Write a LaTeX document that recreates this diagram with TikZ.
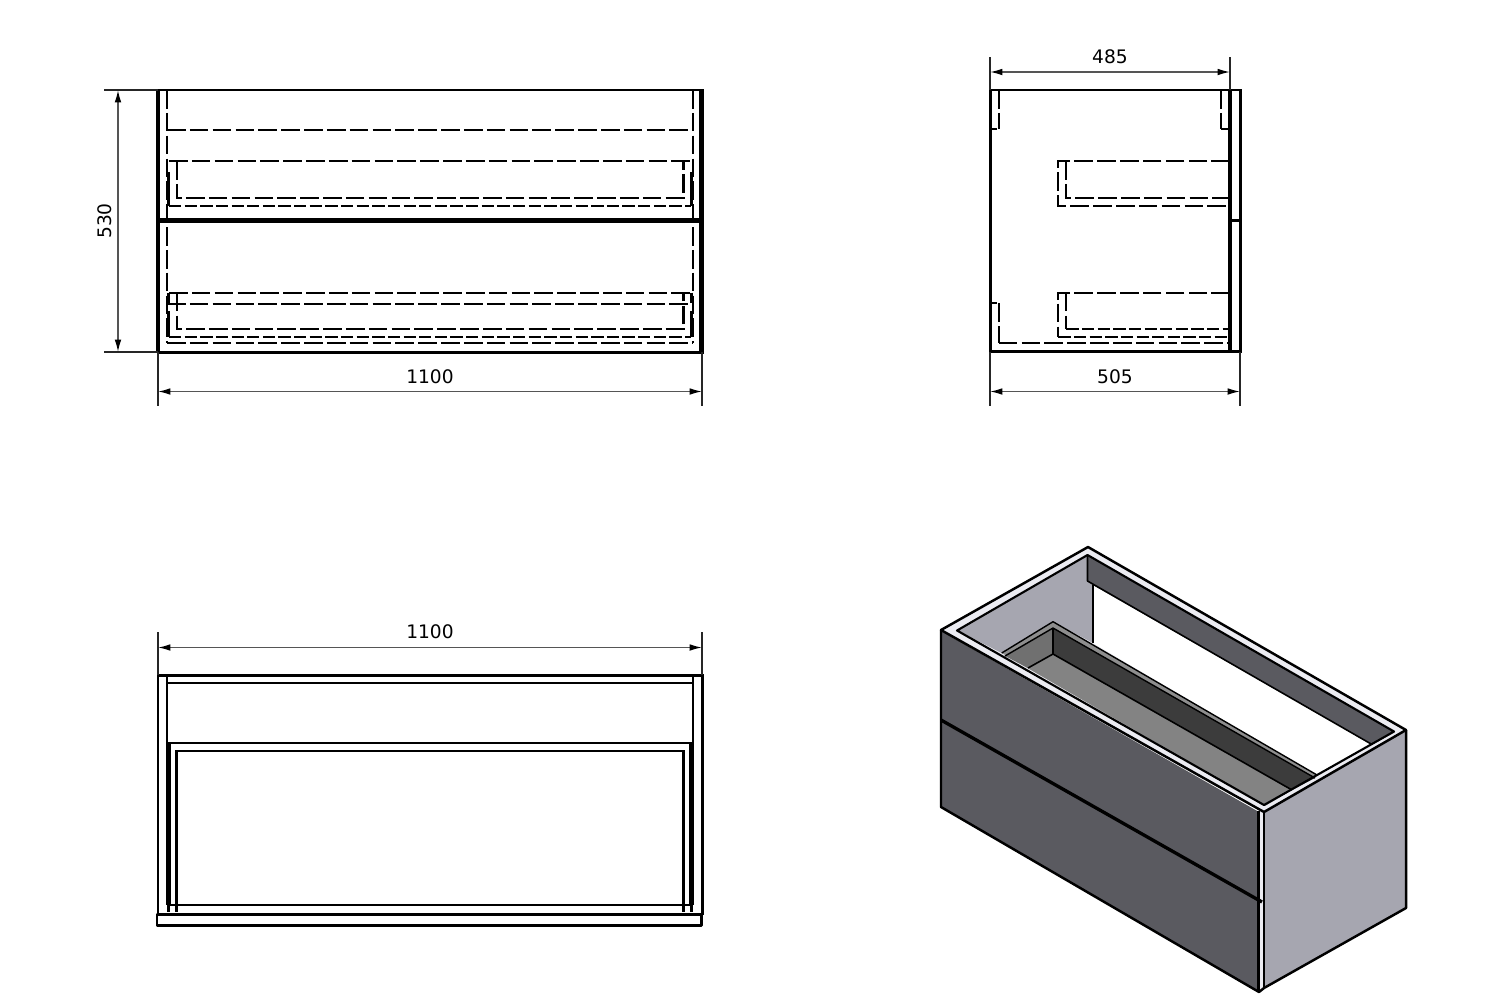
\documentclass[tikz,border=0pt]{standalone}
\usepackage{fontspec}
\setmainfont{DejaVu Sans}
\usetikzlibrary{arrows.meta}
\definecolor{facedark}{HTML}{5A5A60}
\definecolor{facelight}{HTML}{A6A6B0}
\definecolor{rimwhite}{HTML}{ECECF2}
\definecolor{traylip}{HTML}{8E8E8E}
\definecolor{traymid}{HTML}{707070}
\definecolor{traydark}{HTML}{3C3C3C}
\definecolor{trayfloor}{HTML}{838383}
\definecolor{dimgray}{HTML}{555555}
\tikzset{
  outline/.style={line width=1.7pt,black},
  thickline/.style={line width=2.1pt,black},
  thinline/.style={line width=1.25pt,black},
  hidlong/.style={line width=1.25pt,black,dash pattern=on 10.6pt off 2.4pt},
  hidshort/.style={line width=1.25pt,black,dash pattern=on 7pt off 1.9pt},
  hidmini/.style={line width=1.25pt,black,dash pattern=on 4pt off 1.2pt},
  dimline/.style={line width=.85pt,dimgray,{Latex[length=7pt,width=3.8pt,black]}-{Latex[length=7pt,width=3.8pt,black]}},
  extline/.style={line width=.6pt,black!85},
  dimtext/.style={font=\fontsize{10.6pt}{12pt}\selectfont,inner sep=0pt,black},
  isoedge/.style={line width=1.4pt,black,line join=round}
}
\begin{document}
\begin{tikzpicture}[x=0.02cm,y=-0.02cm]
\useasboundingbox (0,0) rectangle (1500,994);
\fill[white] (0,0) rectangle (1500,994);

%% ---------- Front view ----------
\draw[hidlong] (167,90) -- (167,343);
\draw[hidlong] (693,90) -- (693,343);
\draw[hidlong] (167,130) -- (693,130);
% upper tray
\draw[hidlong] (169,161) -- (691,161);
\draw[hidshort] (169,205.7) -- (691,205.7);
\draw[thinline] (168.5,172) -- (168.5,205.7);
\draw[thinline] (691.5,172) -- (691.5,205.7);
\draw[hidlong] (177,161) -- (177,197.7) -- (683.5,197.7) -- (683.5,161);
% lower tray
\draw[hidlong] (169,292.7) -- (691,292.7);
\draw[hidlong] (167,304) -- (177,304) -- (683.5,304) -- (693,304);
\draw[thinline] (168.5,292.7) -- (168.5,303);
\draw[thinline] (691.5,292.7) -- (691.5,303);
\draw[thinline] (168.5,311) -- (168.5,337.3);
\draw[thinline] (691.5,311) -- (691.5,337.3);
\draw[hidlong] (177,292.7) -- (177,329.3) -- (683.5,329.3) -- (683.5,292.7);
\draw[hidshort] (169,337.3) -- (691,337.3);
\draw[hidlong] (167,343.3) -- (693,343.3);
% outer
\draw[outline] (158,90) rectangle (702,352);
\draw[thickline] (158,90) -- (158,352);
\draw[line width=2.3pt] (701.5,90) -- (701.5,352);
\draw[line width=2.4pt] (158,220.5) -- (702,220.5);
\coordinate (fa) at (118,90); \coordinate (fb) at (118,352);
\coordinate (fc) at (158,391.5); \coordinate (fd) at (702,391.5);
\draw[extline] (104,90) -- (158,90);
\draw[extline] (104,352) -- (158,352);
\draw[extline] (158,352) -- (158,405.5);
\draw[extline] (702,352) -- (702,405.5);
\draw[dimline] (fa) -- (fb);
\draw[dimline] (fc) -- (fd);
\node[dimtext,rotate=90] (t530) at (105,221) {530};
\node[dimtext] (t1100a) at (430,377) {1100};

%% ---------- Side view ----------
\draw[hidmini] (990,129.3) -- (998.7,129.3);
\draw[hidlong] (998.7,90) -- (998.7,129.3);
\draw[hidlong] (1220.7,90) -- (1220.7,129.3);
\draw[hidmini] (1220.7,129.3) -- (1230,129.3);
\draw[hidlong] (1230,161) -- (1058.3,161) -- (1058.3,205.7) -- (1230,205.7);
\draw[hidlong] (1066.3,161) -- (1066.3,197.7) -- (1230,197.7);
\draw[hidlong] (1230,292.7) -- (1058.3,292.7) -- (1058.3,337.3);
\draw[hidshort] (1058.3,337.3) -- (1230,337.3);
\draw[hidlong] (1066.3,292.7) -- (1066.3,329.3);
\draw[hidshort] (1066.3,329.3) -- (1230,329.3);
\draw[hidmini] (990,303.3) -- (998.7,303.3);
\draw[hidlong] (998.7,303.3) -- (998.7,343.3);
\draw[hidlong] (998.7,343.3) -- (1230,343.3);
\draw[outline] (990,90) rectangle (1240,351.7);
\draw[thickline] (1230,90) -- (1230,351.7);
\draw[thickline] (1230,220.5) -- (1240,220.5);
\coordinate (sa) at (990,72); \coordinate (sb) at (1230,72);
\coordinate (sc) at (990,391.5); \coordinate (sd) at (1240,391.5);
\draw[extline] (990,57) -- (990,90);
\draw[extline] (1230,57) -- (1230,90);
\draw[extline] (990,352) -- (990,405.5);
\draw[extline] (1240,352) -- (1240,405.5);
\draw[dimline] (sa) -- (sb);
\draw[dimline] (sc) -- (sd);
\node[dimtext] (t485) at (1110,57) {485};
\node[dimtext] (t505) at (1115,377) {505};

%% ---------- Top view ----------
\draw[outline] (158,914.5) -- (158,675) -- (702,675) -- (702,914.5);
\draw[thinline] (166.7,743.3) -- (166.7,683.3) -- (693,683.3) -- (693,743.3);
\draw[thinline] (166.7,675) -- (166.7,683.3);
\draw[thinline] (693,675) -- (693,683.3);
\draw[thinline] (166.7,743.3) -- (693,743.3);
\draw[line width=2.3pt] (168.5,743.3) -- (168.5,905);
\draw[line width=2.3pt] (691.5,743.3) -- (691.5,905);
\draw[thinline] (176.5,905) -- (176.5,751) -- (683.5,751) -- (683.5,905);
\draw[thinline] (168,905) -- (692,905);
\draw[hidmini] (168.5,905) -- (168.5,914);
\draw[hidmini] (176.5,905) -- (176.5,914);
\draw[hidmini] (683.5,905) -- (683.5,914);
\draw[hidmini] (691.5,905) -- (691.5,914);
\draw[outline,line join=round] (157,914.5) rectangle (701.3,925);
\coordinate (ta) at (158,647.5); \coordinate (tb) at (702,647.5);
\draw[extline] (158,632) -- (158,675);
\draw[extline] (702,632) -- (702,675);
\draw[dimline] (ta) -- (tb);
\node[dimtext] (t1100b) at (430,632) {1100};

%% ---------- Isometric view ----------
% front and right faces
\fill[facedark] (941,631) -- (1259,812) -- (1259,992) -- (941,807) -- cycle;
\fill[facelight] (1264,812) -- (1406,731) -- (1406,908) -- (1264,988) -- cycle;
\fill[rimwhite] (1259,810) -- (1264,810) -- (1264,988) -- (1259,991) -- cycle;
% rim
\fill[rimwhite] (941,630) -- (1088,547) -- (1406,730) -- (1263,812) -- cycle;
% inner left wall
\fill[facelight] (957,630.5) -- (1087,556) -- (1093,560) -- (1093,643) -- (1053,621.7) -- (1001.7,653) -- cycle;
% white opening
\fill[white] (1093,585) -- (1372,744) -- (1316,775) -- (1093,643) -- cycle;
% back strip
\fill[facedark] (1087.5,555) -- (1395,732) -- (1372,744.5) -- (1093,585) -- (1087.5,581) -- cycle;
% tray
\fill[traylip] (1001.7,653) -- (1053,621.7) -- (1317,775) -- (1265,806) -- cycle;
\fill[traymid] (1005,656) -- (1053,628) -- (1053,654) -- (1028,668) -- cycle;
\fill[traydark] (1053,628) -- (1315,778) -- (1292,790) -- (1053,654) -- cycle;
\fill[trayfloor] (1028,668) -- (1053,654) -- (1292,790) -- (1265,805) -- cycle;
\draw[isoedge,line width=.8pt] (1001.7,653) -- (1053,621.7) -- (1317,775);
\draw[isoedge,line width=.8pt] (1005,656) -- (1053,628) -- (1315,778);
\draw[isoedge,line width=.9pt] (1053,628) -- (1053,654);
\draw[isoedge,line width=.9pt] (1028,668) -- (1053,654) -- (1292,790);
% wall edges
\draw[isoedge,line width=.9pt] (1093,585) -- (1093,643);
\draw[isoedge,line width=.9pt] (1087.5,555) -- (1087.5,581) -- (1372,744.5);
% rim edges
\draw[isoedge] (941,630) -- (1088,547) -- (1406,730) -- (1264,812) -- cycle;
\draw[isoedge,line width=1.2pt] (957,630.5) -- (1087.5,555) -- (1394,731.5) -- (1264,805) -- cycle;
% outline and front post
\draw[isoedge] (941,630) -- (941,807) -- (1259,992) -- (1264,988) -- (1406,908) -- (1406,730);
\draw[isoedge] (1258.5,811) -- (1258.5,992);
\draw[isoedge] (1264,812) -- (1264,988);
\draw[line width=1.9pt,black] (941,720) -- (1262,902);
\end{tikzpicture}
\end{document}
